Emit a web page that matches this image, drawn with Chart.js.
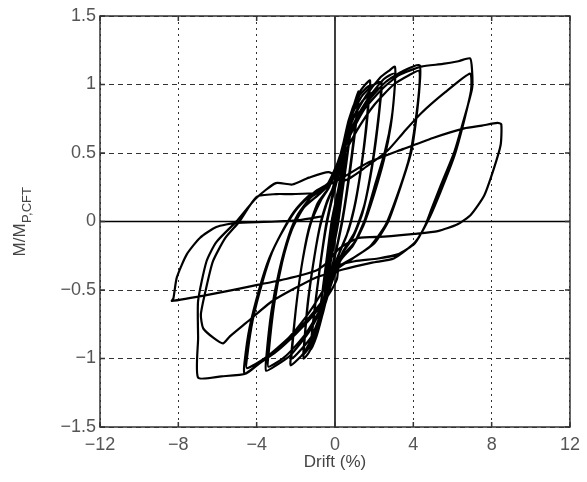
<!DOCTYPE html>
<html>
<head>
<meta charset="utf-8">
<script src="https://cdn.jsdelivr.net/npm/chart.js@4"></script>
<style>
  html, body { margin: 0; padding: 0; background: #fff; }
  canvas { display: block; }
</style>
</head>
<body>
<canvas id="chart" width="587" height="482"></canvas>
<script>
// axis ticks
const driftTicks = [-12, -8, -4, 0, 4, 8, 12];
const momentTicks = [-1.5, -1, -0.5, 0, 0.5, 1, 1.5];

// hysteresis path: [drift %, M/Mp,CFT]
const cycle0375 = [
    [0, 0], [0.2, 0.22], [0.38, 0.4], [0.35, 0.34], [0.1, 0.04], [-0.15, -0.2], [-0.38, -0.41],
    [-0.35, -0.35], [-0.1, -0.05], [0.15, 0.2], [0.38, 0.41], [0.34, 0.33], [0.08, 0.02],
    [-0.2, -0.25], [-0.38, -0.42], [-0.34, -0.34], [-0.05, 0]
];
const cycle05 = [
    [0.25, 0.27], [0.5, 0.5], [0.47, 0.44], [0.2, 0.12], [-0.05, -0.08], [-0.3, -0.32],
    [-0.52, -0.52], [-0.49, -0.45], [-0.2, -0.12], [0.05, 0.08], [0.3, 0.33], [0.52, 0.52],
    [0.48, 0.45], [0.2, 0.1], [-0.1, -0.14], [-0.5, -0.5], [-0.46, -0.42], [-0.15, -0.06]
];
const cycle075 = [
    [0.1, 0.1], [0.45, 0.48], [0.78, 0.72], [0.75, 0.64], [0.45, 0.3], [0.15, -0.02], [-0.2, -0.28],
    [-0.55, -0.56], [-0.8, -0.74], [-0.77, -0.66], [-0.45, -0.3], [-0.15, 0.02],
    [0.2, 0.26], [0.5, 0.52], [0.8, 0.71], [0.76, 0.62], [0.4, 0.24], [0.1, -0.04], [-0.3, -0.36],
    [-0.8, -0.72], [-0.76, -0.64], [-0.4, -0.26], [-0.1, 0.05]
];
const cycle1 = [
    [0.2, 0.25], [0.6, 0.6], [0.95, 0.84], [1.2, 0.95], [1.17, 0.86], [0.85, 0.48], [0.45, 0.08],
    [0.1, -0.18], [-0.3, -0.42], [-0.7, -0.7], [-1.0, -0.86], [-1.22, -0.93], [-1.19, -0.84],
    [-0.9, -0.48], [-0.5, -0.08], [-0.15, 0.16],
    [0.25, 0.38], [0.65, 0.64], [1.0, 0.84], [1.2, 0.92], [1.17, 0.83], [0.8, 0.4], [0.4, 0.02],
    [0.05, -0.22], [-0.35, -0.46], [-0.75, -0.72], [-1.2, -0.9], [-1.17, -0.8], [-0.85, -0.42],
    [-0.45, -0.02], [-0.15, 0.18]
];
const cycle15 = [
    [0.25, 0.45], [0.7, 0.74], [1.2, 0.93], [1.55, 1.0], [1.79, 1.03], [1.76, 0.94], [1.6, 0.68],
    [1.35, 0.4], [1.05, 0.14], [0.7, -0.06], [0.3, -0.2], [-0.1, -0.35], [-0.5, -0.6], [-0.95, -0.84],
    [-1.35, -0.96], [-1.6, -1.0], [-1.58, -0.92], [-1.4, -0.62], [-1.12, -0.32], [-0.8, -0.06],
    [-0.45, 0.12], [-0.1, 0.25],
    [0.3, 0.48], [0.75, 0.74], [1.25, 0.92], [1.75, 0.99], [1.72, 0.9], [1.55, 0.64], [1.3, 0.36],
    [0.98, 0.1], [0.6, -0.1], [0.2, -0.24], [-0.2, -0.42], [-0.6, -0.66], [-1.05, -0.86],
    [-1.6, -0.97], [-1.57, -0.88], [-1.38, -0.58], [-1.08, -0.28], [-0.75, -0.02], [-0.4, 0.15],
    [-0.1, 0.25]
];
const cycle2 = [
    [0.3, 0.5], [0.8, 0.76], [1.4, 0.92], [1.9, 0.99], [2.37, 1.02], [2.34, 0.93], [2.15, 0.68],
    [1.88, 0.4], [1.5, 0.12], [1.0, -0.08], [0.4, -0.22], [0.0, -0.36], [-0.45, -0.58], [-1.0, -0.8],
    [-1.6, -0.96], [-2.26, -1.05], [-2.23, -0.96], [-2.0, -0.64], [-1.72, -0.34], [-1.35, -0.06],
    [-0.9, 0.13], [-0.35, 0.24],
    [0.2, 0.42], [0.75, 0.7], [1.4, 0.88], [2.35, 0.98], [2.32, 0.88], [2.1, 0.6], [1.8, 0.32],
    [1.4, 0.06], [0.9, -0.12], [0.3, -0.25], [-0.1, -0.4], [-0.6, -0.62], [-1.2, -0.84],
    [-2.2, -1.0], [-2.17, -0.9], [-1.95, -0.58], [-1.65, -0.28], [-1.25, -0.02], [-0.7, 0.16],
    [-0.3, 0.25]
];
const cycle3 = [
    [0.3, 0.5], [0.9, 0.74], [1.6, 0.92], [2.3, 1.05], [2.75, 1.1], [3.06, 1.13], [3.06, 1.0],
    [2.89, 0.75], [2.55, 0.51], [2.05, 0.27], [1.54, 0.02], [1.0, -0.15], [0.4, -0.25], [0.0, -0.38],
    [-0.5, -0.58], [-1.3, -0.8], [-2.3, -0.98], [-3.0, -1.05], [-3.52, -1.09], [-3.5, -0.98],
    [-3.25, -0.66], [-2.85, -0.36], [-2.35, -0.1], [-1.9, 0.05], [-1.2, 0.18], [-0.35, 0.26],
    [0.2, 0.45], [0.9, 0.7], [1.7, 0.9], [2.5, 1.04], [3.05, 1.08], [3.04, 0.96], [2.85, 0.7],
    [2.5, 0.45], [2.0, 0.2], [1.45, -0.03], [0.9, -0.18], [0.3, -0.28], [-0.1, -0.42], [-0.6, -0.6],
    [-1.5, -0.82], [-2.5, -0.98], [-3.4, -1.06], [-3.38, -0.95], [-3.1, -0.6], [-2.7, -0.3],
    [-2.2, -0.06], [-1.6, 0.1], [-0.8, 0.2], [-0.3, 0.27]
];
const cycle4 = [
    [0.4, 0.5], [1.0, 0.72], [1.7, 0.88], [2.6, 1.02], [3.5, 1.1], [4.32, 1.14], [4.32, 0.99],
    [4.15, 0.75], [3.9, 0.51], [3.39, 0.27], [2.72, 0.0], [2.0, -0.16], [1.0, -0.26], [0.2, -0.33],
    [0.1, -0.42], [-0.4, -0.55], [-1.2, -0.7], [-2.0, -0.82], [-3.0, -0.95], [-3.9, -1.04],
    [-4.62, -1.11], [-4.62, -1.03], [-4.37, -0.78], [-3.86, -0.49], [-3.36, -0.27], [-2.68, -0.07],
    [-2.1, 0.07], [-1.4, 0.18], [-0.4, 0.27],
    [0.3, 0.45], [1.1, 0.66], [2.0, 0.85], [3.0, 1.0], [3.8, 1.07], [4.3, 1.1], [4.3, 0.97],
    [4.1, 0.72], [3.82, 0.48], [3.3, 0.24], [2.6, -0.02], [1.8, -0.18], [0.9, -0.27], [0.1, -0.35],
    [-0.5, -0.55], [-1.5, -0.73], [-2.6, -0.88], [-3.6, -1.0], [-4.5, -1.07], [-4.48, -0.98],
    [-4.2, -0.72], [-3.7, -0.44], [-3.2, -0.22], [-2.55, -0.04], [-1.9, 0.1], [-1.0, 0.22],
    [-0.35, 0.28]
];
const cycle7a = [
    [0.5, 0.55], [1.5, 0.82], [2.5, 0.98], [3.3, 1.07], [4.4, 1.13], [5.5, 1.15], [6.3, 1.17],
    [6.9, 1.19], [7.0, 1.1], [7.0, 0.97], [6.59, 0.75], [6.1, 0.51], [5.42, 0.27], [4.95, 0.1],
    [4.6, -0.03], [4.07, -0.16], [3.2, -0.24], [2.2, -0.27], [1.0, -0.29], [0.0, -0.33],
    [-0.6, -0.5], [-1.5, -0.7], [-2.5, -0.87], [-3.5, -0.99], [-4.54, -1.11], [-5.8, -1.13],
    [-6.99, -1.14], [-6.99, -0.85], [-6.99, -0.58], [-6.56, -0.29], [-6.06, -0.15], [-5.04, 0.0],
    [-4.03, 0.17], [-3.02, 0.28], [-2.18, 0.27], [-1.33, 0.32], [-0.32, 0.36]
];
const cycle7b = [
    [0.5, 0.3], [1.6, 0.4], [2.7, 0.52], [3.5, 0.65], [4.4, 0.79], [5.6, 0.94], [6.9, 1.08],
    [6.95, 0.96], [6.6, 0.74], [6.1, 0.48], [5.4, 0.22], [4.8, 0.02], [4.1, -0.15], [3.0, -0.27],
    [1.9, -0.3], [0.4, -0.35], [-0.99, -0.41], [-3.19, -0.58], [-4.54, -0.74], [-5.38, -0.84],
    [-5.72, -0.89], [-6.2, -0.85], [-6.73, -0.78], [-6.85, -0.68], [-6.6, -0.5], [-6.23, -0.29],
    [-5.6, -0.12], [-4.88, 0.0], [-4.0, 0.18], [-3.0, 0.2], [-2.2, 0.2], [-1.0, 0.21], [-0.3, 0.27]
];
const cycle85 = [
    [0.5, 0.33], [1.7, 0.43], [3.5, 0.53], [5.0, 0.61], [6.6, 0.68], [7.5, 0.7], [8.29, 0.72],
    [8.49, 0.71], [8.46, 0.56], [8.12, 0.39], [7.62, 0.19], [6.94, 0.05], [6.26, -0.02],
    [5.25, -0.07], [4.07, -0.09], [2.5, -0.11], [1.2, -0.12], [0.2, -0.2], [-0.4, -0.3],
    [-0.99, -0.36], [-2.5, -0.42], [-4.2, -0.47], [-6.3, -0.53], [-8.33, -0.58], [-8.25, -0.56],
    [-8.08, -0.41], [-7.57, -0.24], [-6.9, -0.12], [-6.06, -0.04], [-5.04, -0.01], [-3.02, 0.0],
    [-1.84, 0.01], [-0.6, 0.04]
];

const path = [cycle0375, cycle05, cycle075, cycle1, cycle15, cycle2, cycle3, cycle4, cycle7a, cycle7b, cycle85]
    .flat()
    .map(([x, y]) => ({ x, y }));

const minus = (v) => String(v).replace('-', '\u2212');
const FONT = '"Liberation Sans", Arial, sans-serif';

// box, zero lines, inward ticks and the axis titles
const frame = {
    id: 'frame',
    beforeDatasetsDraw(chart) {
        const { ctx, chartArea: a, scales: { x, y } } = chart;
        ctx.save();
        ctx.strokeStyle = '#000';
        ctx.lineWidth = 1.5;
        const x0 = x.getPixelForValue(0);
        const y0 = y.getPixelForValue(0);
        ctx.beginPath();
        ctx.moveTo(x0, a.top); ctx.lineTo(x0, a.bottom);
        ctx.moveTo(a.left, y0); ctx.lineTo(a.right, y0);
        ctx.stroke();

        ctx.strokeStyle = '#333';
        ctx.strokeRect(a.left, a.top, a.right - a.left, a.bottom - a.top);
        ctx.beginPath();
        driftTicks.forEach(v => {
            const px = x.getPixelForValue(v);
            ctx.moveTo(px, a.bottom); ctx.lineTo(px, a.bottom - 5);
            ctx.moveTo(px, a.top); ctx.lineTo(px, a.top + 5);
        });
        momentTicks.forEach(v => {
            const py = y.getPixelForValue(v);
            ctx.moveTo(a.left, py); ctx.lineTo(a.left + 5, py);
            ctx.moveTo(a.right, py); ctx.lineTo(a.right - 5, py);
        });
        ctx.stroke();
        ctx.restore();
    },
    afterDraw(chart) {
        const { ctx, chartArea: a } = chart;
        ctx.save();
        ctx.fillStyle = '#444';
        ctx.textBaseline = 'middle';
        ctx.textAlign = 'center';
        ctx.font = '17px ' + FONT;
        ctx.fillText('Drift (%)', (a.left + a.right) / 2, 462);

        // y title with subscript
        const main = 'M/M';
        const sub = 'P,CFT';
        ctx.font = '17px ' + FONT;
        const wMain = ctx.measureText(main).width;
        ctx.font = '13px ' + FONT;
        const wSub = ctx.measureText(sub).width;
        ctx.translate(20, 222);
        ctx.rotate(-Math.PI / 2);
        ctx.textAlign = 'left';
        const start = -(wMain + wSub) / 2;
        ctx.font = '17px ' + FONT;
        ctx.fillText(main, start, 0);
        ctx.font = '13px ' + FONT;
        ctx.fillText(sub, start + wMain + 0.5, 7);
        ctx.restore();
    }
};

new Chart(document.getElementById('chart').getContext('2d'), {
    type: 'scatter',
    data: {
        datasets: [{
            label: 'M/Mp',
            data: path,
            showLine: true,
            borderColor: '#000',
            borderWidth: 2.2,
            pointRadius: 0,
            tension: 0.2,
            fill: false,
        }]
    },
    options: {
        responsive: false,
        animation: false,
        layout: { padding: { top: 16, right: 13, left: 0, bottom: 0 } },
        plugins: {
            legend: { display: false },
            tooltip: { enabled: false }
        },
        scales: {
            x: {
                type: 'linear',
                min: driftTicks[0],
                max: driftTicks[driftTicks.length - 1],
                afterBuildTicks: (s) => { s.ticks = driftTicks.map(v => ({ value: v })); },
                afterFit: (s) => { s.height = 55; },
                grid: {
                    drawTicks: false,
                    color: (c) => c.tick && c.tick.value !== 0 ? '#333' : 'rgba(0,0,0,0)',
                    lineWidth: 1
                },
                border: { display: false, dash: [2, 4] },
                ticks: {
                    padding: 7,
                    color: '#555',
                    font: { family: FONT, size: 18 },
                    callback: (v) => minus(v)
                }
            },
            y: {
                type: 'linear',
                min: momentTicks[0],
                max: momentTicks[momentTicks.length - 1],
                afterBuildTicks: (s) => { s.ticks = momentTicks.map(v => ({ value: v })); },
                afterFit: (s) => { s.width = 100; },
                grid: {
                    drawTicks: false,
                    color: (c) => c.tick && c.tick.value !== 0 ? '#333' : 'rgba(0,0,0,0)',
                    lineWidth: 1
                },
                border: { display: false, dash: [5, 4] },
                ticks: {
                    padding: 4,
                    color: '#555',
                    font: { family: FONT, size: 18 },
                    callback: (v) => minus(v)
                }
            }
        }
    },
    plugins: [frame]
});
</script>
</body>
</html>
